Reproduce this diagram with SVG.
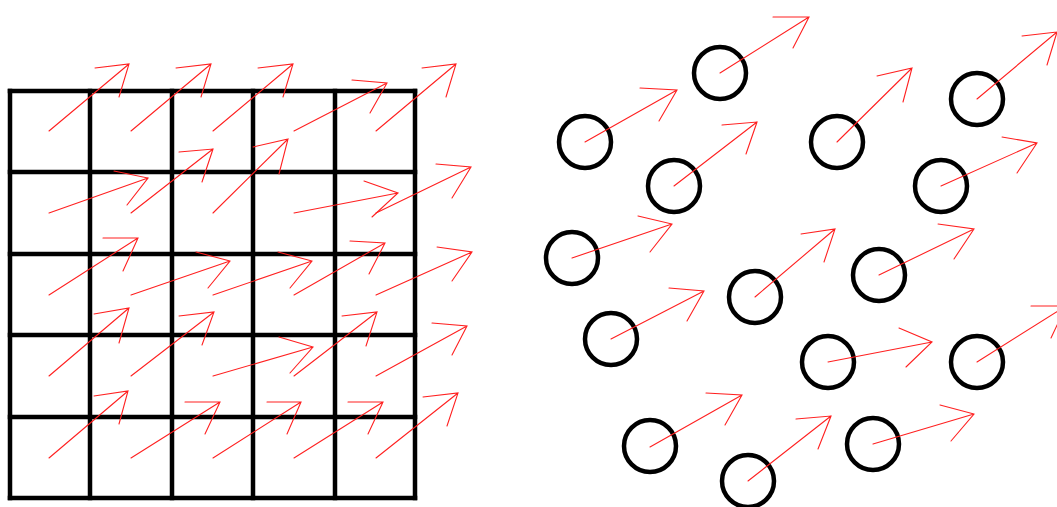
<svg xmlns="http://www.w3.org/2000/svg" width="1057" height="507" viewBox="0 0 1057 507">
<style>
.grid{stroke:#000;stroke-width:4.5;fill:none;stroke-linecap:square}
.node{stroke:#000;stroke-width:4.5;fill:none}
.arr{stroke:#ff2020;stroke-width:1.1;fill:none;stroke-linecap:round;stroke-linejoin:miter}
</style>
<rect width="1057" height="507" fill="#fff"/>
<g id="grid" class="grid">
<path d="M10 91H415M10 172H415M10 254H415M10 335H415M10 417H415M10 498H415"/>
<path d="M10 91V498M90 91V498M172 91V498M253 91V498M335 91V498M415 91V498"/>
</g>
<g id="n1"><circle class="node" cx="585" cy="142" r="26"/></g>
<g id="n2"><circle class="node" cx="720" cy="73" r="26"/></g>
<g id="n3"><circle class="node" cx="674" cy="186" r="26"/></g>
<g id="n4"><circle class="node" cx="837" cy="142" r="26"/></g>
<g id="n5"><circle class="node" cx="977" cy="99" r="26"/></g>
<g id="n6"><circle class="node" cx="941" cy="186" r="26"/></g>
<g id="n7"><circle class="node" cx="572" cy="258" r="26"/></g>
<g id="n8"><circle class="node" cx="755" cy="297" r="26"/></g>
<g id="n9"><circle class="node" cx="611" cy="339" r="26"/></g>
<g id="n10"><circle class="node" cx="650" cy="446" r="26"/></g>
<g id="n11"><circle class="node" cx="748" cy="481" r="26"/></g>
<g id="n12"><circle class="node" cx="879" cy="275" r="26"/></g>
<g id="n13"><circle class="node" cx="828" cy="362" r="26"/></g>
<g id="n14"><circle class="node" cx="977" cy="362" r="26"/></g>
<g id="n15"><circle class="node" cx="873" cy="444" r="26"/></g>
<g id="connectors" class="arr">
<path d="M49 131L129 64M95 68L129 64L119 97"/>
<path d="M131 131L211 64M176 68L211 64L201 97"/>
<path d="M213 131L293 64M258 68L293 64L283 97"/>
<path d="M294 131L387 83M352 80L387 83L370 113"/>
<path d="M376 131L456 64M422 68L456 64L446 97"/>
<path d="M49 213L148 178M114 171L148 178L127 205"/>
<path d="M131 213L213 149M179 152L213 149L202 182"/>
<path d="M213 213L288 139M253 147L288 139L279 174"/>
<path d="M294 213L398 193M364 181L398 193L372 217"/>
<path d="M376 213L471 167M436 164L471 167L452 198"/>
<path d="M49 295L138 238M103 238L138 238L123 271"/>
<path d="M131 295L230 261M196 252L230 261L208 288"/>
<path d="M213 295L312 261M278 252L312 261L290 288"/>
<path d="M294 295L385 243M350 241L385 243L369 274"/>
<path d="M376 295L472 252M437 247L472 252L452 281"/>
<path d="M49 376L129 308M94 314L129 308L119 343"/>
<path d="M131 376L214 312M179 316L214 312L202 345"/>
<path d="M213 376L313 347M279 337L313 347L290 373"/>
<path d="M294 376L377 312M342 316L377 312L366 346"/>
<path d="M376 376L467 326M432 323L467 326L452 355"/>
<path d="M49 458L128 391M94 396L128 391L119 424"/>
<path d="M131 458L220 402M185 402L220 402L205 434"/>
<path d="M213 458L301 402M267 402L301 402L287 434"/>
<path d="M294 458L383 402M348 402L383 402L368 434"/>
<path d="M376 458L458 393M423 397L458 393L447 426"/>
<path d="M585 142L677 90M640 88L677 90L659 121"/>
<path d="M720 73L809 17M773 17L809 17L793 48"/>
<path d="M674 186L757 122M722 125L757 122L746 154"/>
<path d="M837 142L912 68M877 76L912 68L903 102"/>
<path d="M977 99L1057 32M1022 36L1057 32L1047 65"/>
<path d="M941 186L1037 143M1002 137L1037 143L1017 173"/>
<path d="M572 258L672 224M638 216L672 224L650 252"/>
<path d="M755 297L835 229M801 234L835 229L824 262"/>
<path d="M611 339L704 291M669 288L704 291L687 321"/>
<path d="M650 447L742 395M706 393L742 395L725 425"/>
<path d="M748 481L831 416M796 419L831 416L818 449"/>
<path d="M879 275L974 229M938 224L974 229L954 259"/>
<path d="M828 362L932 342M899 328L932 342L906 367"/>
<path d="M977 362L1066 306M1031 306L1066 306L1051 338"/>
<path d="M873 444L974 414M940 405L974 414L951 441"/>
</g>
</svg>
